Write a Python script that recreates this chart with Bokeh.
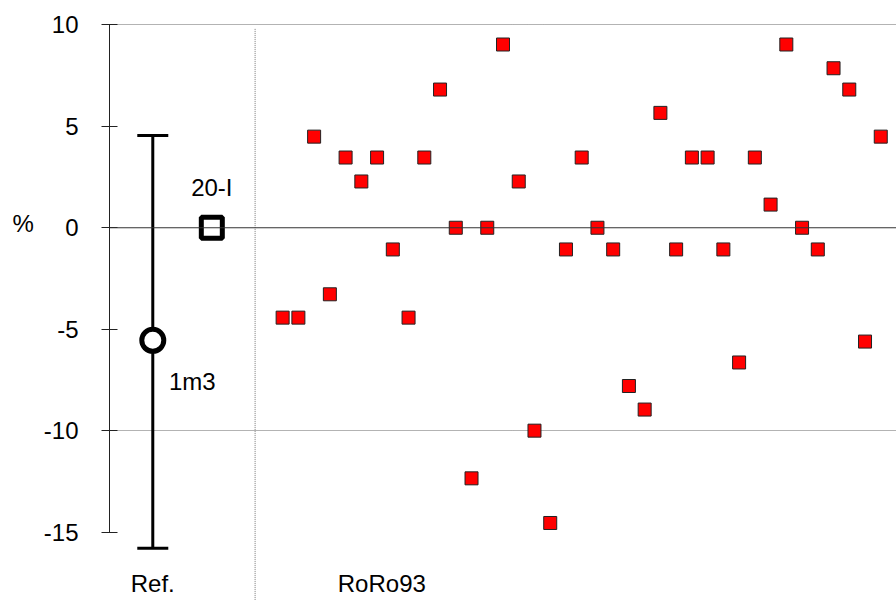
from bokeh.plotting import figure
from bokeh.layouts import row
from bokeh.models import (ColumnDataSource, FixedTicker, Span, Whisker, TeeHead, Range1d)
from bokeh.core.properties import value
from bokeh.embed import file_html
from bokeh.resources import INLINE

FONT = "Liberation Sans"

# RoRo93 deviations (%), in order of appearance
roro_values = [-4.43, -4.43, 4.49, -3.28, 3.46, 2.28, 3.46, -1.07, -4.43, 3.46,
               6.81, 0.0, -12.35, 0.0, 9.03, 2.28, -10.0, -14.55, -1.07, 3.46,
               0.0, -1.07, -7.80, -8.96, 5.66, -1.07, 3.46, 3.46, -1.07, -6.64,
               3.46, 1.14, 9.03, 0.0, -1.07, 7.86, 6.81, -5.61, 4.49]
roro_pos = list(range(1, len(roro_values) + 1))

# Reference
ref_x = [-7.25]
ref_center = [-5.55]
ref_upper = [4.55]
ref_lower = [-15.8]
ref_label = "1m3"

i20_x = [-3.5]
i20_y = [0.0]
i20_label = "20-I"

group_labels = ["Ref.", "RoRo93"]
group_label_x = [-7.25, 7.3]
group_label_y = [-17.54, -17.54]

y_ticks = [-15, -10, -5, 0, 5, 10]
y_unit_label = "%"
sep_x = -0.75

yr = Range1d(-18.37, 10.41)

p = figure(width=856, height=600, output_backend="svg", toolbar_location=None,
           x_range=Range1d(-10, 40), y_range=yr,
           x_axis_location=None, min_border_left=67, min_border_right=0,
           min_border_top=16, min_border_bottom=0)
p.outline_line_color = None
p.background_fill_color = "white"

# y axis
ax = p.yaxis[0]
ax.ticker = FixedTicker(ticks=y_ticks)
ax.bounds = (-15, 10)
ax.major_label_overrides = {t: str(t) for t in y_ticks}
ax.axis_line_color = "#222222"
ax.axis_line_width = 1
ax.major_tick_line_color = "#222222"
ax.major_tick_in = 8
ax.major_tick_out = 8
ax.minor_tick_line_color = None
ax.major_label_text_font = FONT
ax.major_label_text_font_size = "24px"
ax.major_label_text_color = "black"
ax.major_label_standoff = 23

# grids
p.xgrid.visible = False
p.ygrid.ticker = FixedTicker(ticks=[-10, 10])
p.ygrid.grid_line_color = "#666666"
p.ygrid.grid_line_dash = "1 1"
p.ygrid.grid_line_width = 1

p.add_layout(Span(location=0, dimension="width", line_color="#333333", line_width=1.2))

# separator
p.segment(x0=[sep_x], y0=[9.8], x1=[sep_x], y1=[-18.5], line_color="#777777",
          line_dash="1 1", line_width=1)

# reference error bar
src = ColumnDataSource(dict(x=ref_x, upper=ref_upper, lower=ref_lower, c=ref_center))
p.add_layout(Whisker(base="x", upper="upper", lower="lower", source=src,
                     line_color="black", line_width=3,
                     upper_head=TeeHead(size=31, line_width=3, line_color="black"),
                     lower_head=TeeHead(size=31, line_width=3, line_color="black")))
p.scatter(x="x", y="c", source=src, marker="circle", size=22, fill_color="white",
          line_color="black", line_width=5)

# 20-I
p.scatter(x=i20_x, y=i20_y, marker="square", size=21, fill_color="white",
          line_color="black", line_width=5)

# RoRo93 points
p.scatter(x=roro_pos, y=roro_values, marker="square", size=13, fill_color="#FF0000",
          line_color="#222222", line_width=1)

# labels
p.text(x=[-3.5], y=[1.98], text=[i20_label], text_font=value(FONT),
       text_font_size=value("24px"), text_align="center", text_baseline="middle",
       text_color="black")
p.text(x=[-4.74], y=[-7.58], text=[ref_label], text_font=value(FONT),
       text_font_size=value("24px"), text_align="center", text_baseline="middle",
       text_color="black")
p.text(x=group_label_x, y=group_label_y, text=group_labels, text_font=value(FONT),
       text_font_size=value("24px"), text_align="center", text_baseline="middle",
       text_color="black")

# left strip holding the unit label, sharing the y scale
q = figure(width=40, height=600, output_backend="svg", toolbar_location=None,
           x_range=Range1d(0, 40), y_range=yr, x_axis_location=None,
           y_axis_location=None, min_border_left=0, min_border_right=0,
           min_border_top=16, min_border_bottom=0)
q.outline_line_color = None
q.xgrid.visible = False
q.ygrid.visible = False
q.text(x=[12], y=[0.23], text=[y_unit_label], text_font=value(FONT),
       text_font_size=value("24px"), text_align="left", text_baseline="middle",
       text_color="black")

layout = row(q, p, spacing=0)
open("out.html", "w").write(file_html(layout, INLINE))
